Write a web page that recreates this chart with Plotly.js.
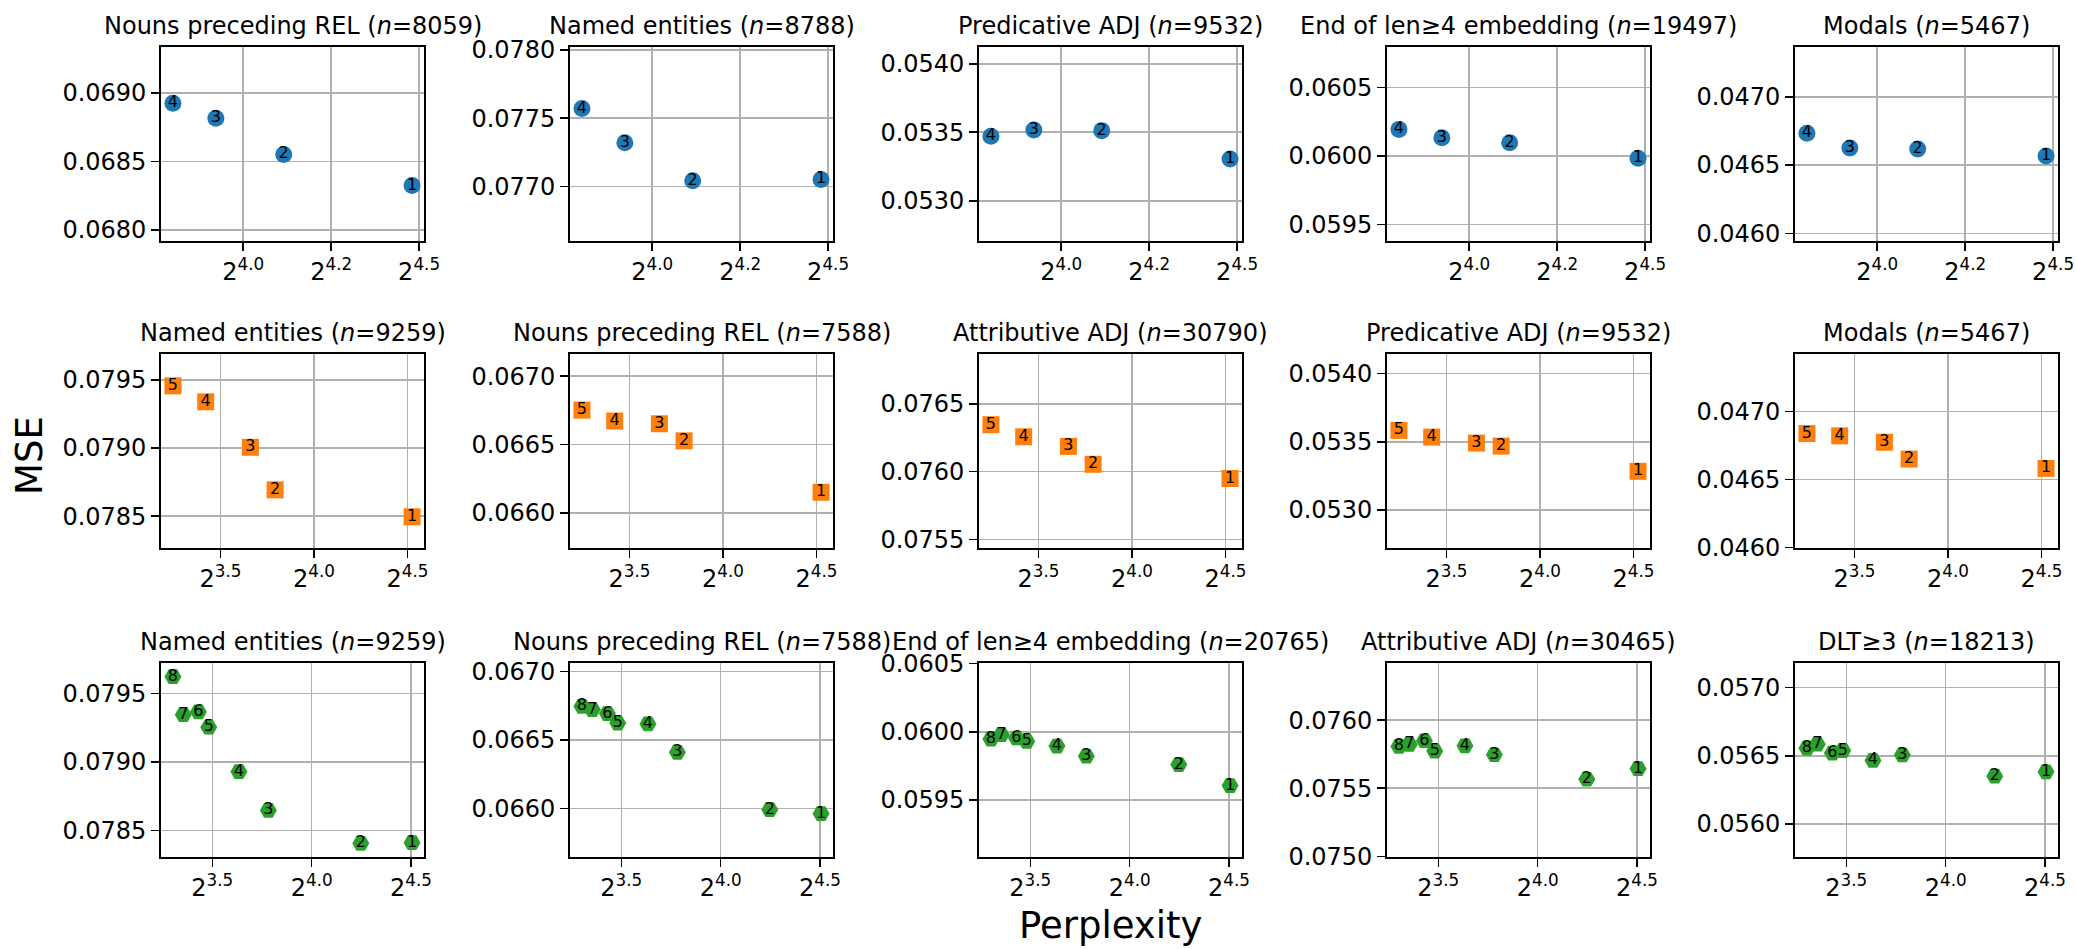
<!DOCTYPE html>
<html><head><meta charset="utf-8">
<script src="https://cdn.plot.ly/plotly-3.0.1.min.js"></script>
<style>html,body{margin:0;padding:0;background:#fff}#chart{width:2076px;height:949px}</style>
</head><body><div id="chart"></div>
<script>
// ---------------- DATA ----------------
// x = log2(perplexity) of each model; labels are model ids
const row1Models = ['1','2','3','4'];
const row1LogPpl = [4.480, 4.115, 3.922, 3.800];
const row2Models = ['1','2','3','4','5'];
const row2LogPpl = [4.524, 3.792, 3.660, 3.421, 3.246];
const row3Models = ['1','2','3','4','5','6','7','8'];
const row3LogPpl = [4.505, 4.247, 3.782, 3.634, 3.482, 3.430, 3.354, 3.302];

// MSE per subplot (same model order as above)
const r1NounsRel   = [0.068324, 0.068551, 0.068815, 0.068924];
const r1NamedEnt   = [0.077051, 0.077042, 0.077321, 0.077571];
const r1PredAdj    = [0.053305, 0.053512, 0.053517, 0.053471];
const r1EndEmb     = [0.059983, 0.060097, 0.060133, 0.060194];
const r1Modals     = [0.046566, 0.046618, 0.046625, 0.046733];

const r2NamedEnt   = [0.078495, 0.078693, 0.079005, 0.079339, 0.079456];
const r2NounsRel   = [0.066150, 0.066527, 0.066652, 0.066672, 0.066752];
const r2AttrAdj    = [0.075949, 0.076054, 0.076186, 0.076257, 0.076346];
const r2PredAdj    = [0.053283, 0.053468, 0.053490, 0.053534, 0.053583];
const r2Modals     = [0.046580, 0.046649, 0.046773, 0.046820, 0.046837];

const r3NamedEnt   = [0.078410, 0.078405, 0.078646, 0.078929, 0.079254, 0.079366, 0.079346, 0.079624];
const r3NounsRel   = [0.065961, 0.065990, 0.066410, 0.066617, 0.066624, 0.066693, 0.066722, 0.066746];
const r3EndEmb     = [0.059605, 0.059759, 0.059820, 0.059895, 0.059929, 0.059954, 0.059978, 0.059946];
const r3AttrAdj    = [0.075644, 0.075566, 0.075746, 0.075812, 0.075773, 0.075849, 0.075822, 0.075807];
const r3Dlt        = [0.056383, 0.056351, 0.056507, 0.056466, 0.056539, 0.056520, 0.056585, 0.056556];

const row1Titles = ['Nouns preceding REL', 'Named entities', 'Predicative ADJ', 'End of len\u22654 embedding', 'Modals'];
const row1N      = [8059, 8788, 9532, 19497, 5467];
const row2Titles = ['Named entities', 'Nouns preceding REL', 'Attributive ADJ', 'Predicative ADJ', 'Modals'];
const row2N      = [9259, 7588, 30790, 9532, 5467];
const row3Titles = ['Named entities', 'Nouns preceding REL', 'End of len\u22654 embedding', 'Attributive ADJ', 'DLT\u22653'];
const row3N      = [9259, 7588, 20765, 30465, 18213];

const row1TickVals = [4.0, 4.25, 4.5];
const row1TickText = ['2<sup>4.0</sup>', '2<sup>4.2</sup>', '2<sup>4.5</sup>'];
const row23TickVals = [3.5, 4.0, 4.5];
const row23TickText = ['2<sup>3.5</sup>', '2<sup>4.0</sup>', '2<sup>4.5</sup>'];

// ---------------- LAYOUT / STYLE ----------------
const W = 2076, H = 949;
const colLeft = [161, 570, 979, 1387, 1795];
const boxW = 263;
const rowTop = [47, 354, 663];
const boxH = 194;
const yRanges = [
  [[0.067920, 0.069334], [0.076600, 0.078022], [0.052707, 0.054122], [0.059381, 0.060794], [0.045944, 0.047365]],
  [[0.078266, 0.079690], [0.065742, 0.067163], [0.075436, 0.076868], [0.052720, 0.054144], [0.045995, 0.047422]],
  [[0.078305, 0.079724], [0.065644, 0.067063], [0.059080, 0.060505], [0.074995, 0.076420], [0.055758, 0.057181]]
];
const rowStyle = [
  {color: '#1f77b4', symbol: 'circle'},
  {color: '#ff7f0e', symbol: 'square'},
  {color: '#2ca02c', symbol: 'hexagon2'}
];
const FONT = 'DejaVu Sans';

const rows = [
  {models: row1Models, x: row1LogPpl, series: [r1NounsRel, r1NamedEnt, r1PredAdj, r1EndEmb, r1Modals], titles: row1Titles, n: row1N, tv: row1TickVals, tt: row1TickText},
  {models: row2Models, x: row2LogPpl, series: [r2NamedEnt, r2NounsRel, r2AttrAdj, r2PredAdj, r2Modals], titles: row2Titles, n: row2N, tv: row23TickVals, tt: row23TickText},
  {models: row3Models, x: row3LogPpl, series: [r3NamedEnt, r3NounsRel, r3EndEmb, r3AttrAdj, r3Dlt], titles: row3Titles, n: row3N, tv: row23TickVals, tt: row23TickText}
];

const traces = [];
const layout = {
  width: W, height: H,
  margin: {l: 0, r: 0, t: 0, b: 0},
  paper_bgcolor: '#ffffff', plot_bgcolor: '#ffffff',
  showlegend: false,
  font: {family: FONT, color: '#000000'},
  annotations: []
};

const axisCommon = {
  showgrid: true, gridcolor: '#b0b0b0', gridwidth: 1.6,
  showline: true, linecolor: '#000000', linewidth: 1.8, mirror: true,
  ticks: 'outside', ticklen: 8, tickwidth: 1.6, tickcolor: '#000000',
  tickfont: {family: FONT, size: 24, color: '#000000'},
  zeroline: false, fixedrange: true
};

let k = 0;
rows.forEach((row, r) => {
  const xmin = Math.min(...row.x), xmax = Math.max(...row.x);
  const pad = 0.05 * (xmax - xmin);
  row.series.forEach((ys, c) => {
    k += 1;
    const sfx = k === 1 ? '' : String(k);
    const l = colLeft[c], t = rowTop[r];
    traces.push({
      type: 'scatter', mode: 'markers+text',
      x: row.x, y: ys, text: row.models,
      xaxis: 'x' + sfx, yaxis: 'y' + sfx,
      marker: {color: rowStyle[r].color, symbol: rowStyle[r].symbol, size: 17, line: {width: 0}},
      textposition: 'middle center',
      textfont: {family: FONT, size: 16, color: '#000000'},
      hoverinfo: 'x+y'
    });
    layout['xaxis' + sfx] = Object.assign({}, axisCommon, {
      domain: [l / W, (l + boxW) / W],
      anchor: 'y' + sfx,
      range: [xmin - pad, xmax + pad],
      tickmode: 'array', tickvals: row.tv, ticktext: row.tt
    });
    layout['yaxis' + sfx] = Object.assign({}, axisCommon, {
      domain: [1 - (t + boxH) / H, 1 - t / H],
      anchor: 'x' + sfx,
      range: yRanges[r][c],
      tick0: 0, dtick: 0.0005, tickformat: '.4f'
    });
    layout.annotations.push({
      xref: 'paper', yref: 'paper',
      x: (l + boxW / 2) / W, y: 1 - t / H,
      xanchor: 'center', yanchor: 'bottom', yshift: 5,
      text: row.titles[c] + ' (<i>n</i>=' + row.n[c] + ')',
      showarrow: false,
      font: {family: FONT, size: 24, color: '#000000'}
    });
  });
});

layout.annotations.push({
  xref: 'paper', yref: 'paper',
  x: 29 / W, y: 1 - 456 / H, xanchor: 'center', yanchor: 'middle',
  text: 'MSE', textangle: -90, showarrow: false,
  font: {family: FONT, size: 37, color: '#000000'}
});
layout.annotations.push({
  xref: 'paper', yref: 'paper',
  x: (colLeft[2] + boxW / 2) / W, y: 1 - 925 / H, xanchor: 'center', yanchor: 'middle',
  text: 'Perplexity', showarrow: false,
  font: {family: FONT, size: 37, color: '#000000'}
});

Plotly.newPlot('chart', traces, layout, {displayModeBar: false, staticPlot: true});
</script>
</body></html>
